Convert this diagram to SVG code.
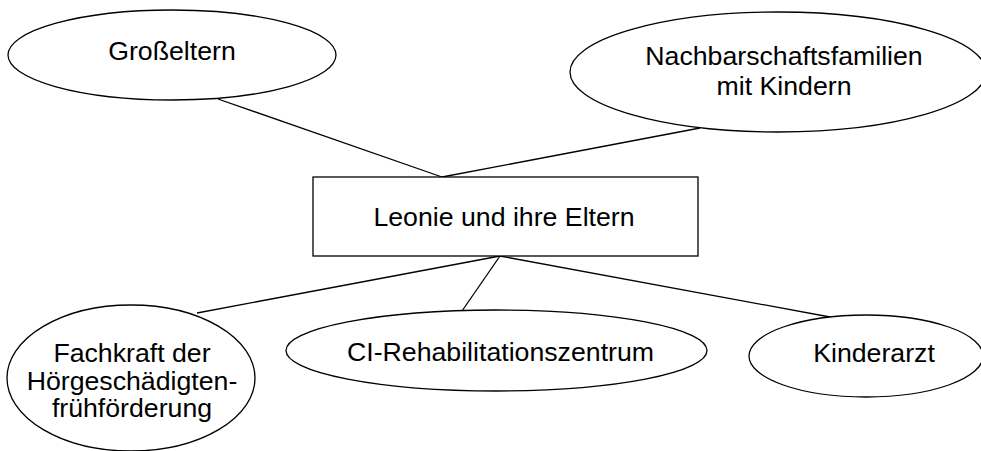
<svg xmlns="http://www.w3.org/2000/svg" width="981" height="451" viewBox="0 0 981 451">
<style>
.s{fill:#fff;stroke:#000;stroke-width:1.3}
.c line{stroke:#000;stroke-width:1.3}
text{font-family:"Liberation Sans",Arial,sans-serif;font-size:26.7px;fill:#000;text-anchor:middle}
</style>
<rect width="981" height="451" fill="#fff"/>
<g class="c" id="connectors">
<line x1="218" y1="99" x2="442" y2="177"/>
<line x1="700" y1="128" x2="442" y2="177"/>
<line x1="500" y1="256" x2="197" y2="313"/>
<line x1="500" y1="256" x2="462" y2="311"/>
<line x1="500" y1="256" x2="830" y2="317"/>
</g>
<g id="grosseltern">
<ellipse class="s" cx="172" cy="55" rx="164" ry="45"/>
<text x="172" y="60">Großeltern</text>
</g>
<g id="nachbarschaft">
<ellipse class="s" cx="778" cy="72" rx="208" ry="60"/>
<text x="784" y="65">Nachbarschaftsfamilien</text>
<text x="784" y="95">mit Kindern</text>
</g>
<g id="leonie">
<rect class="s" x="313" y="177" width="385" height="79"/>
<text x="504" y="226">Leonie und ihre Eltern</text>
</g>
<g id="fachkraft">
<ellipse class="s" cx="131" cy="378" rx="124" ry="73"/>
<text x="132" y="362">Fachkraft der</text>
<text x="132" y="390">Hörgeschädigten-</text>
<text x="132" y="417">frühförderung</text>
</g>
<g id="ci">
<ellipse class="s" cx="496.5" cy="350.5" rx="210.5" ry="40.5"/>
<text x="500.5" y="361">CI-Rehabilitationszentrum</text>
</g>
<g id="kinderarzt">
<ellipse class="s" cx="866" cy="356" rx="117" ry="41"/>
<text x="874" y="362">Kinderarzt</text>
</g>
</svg>
